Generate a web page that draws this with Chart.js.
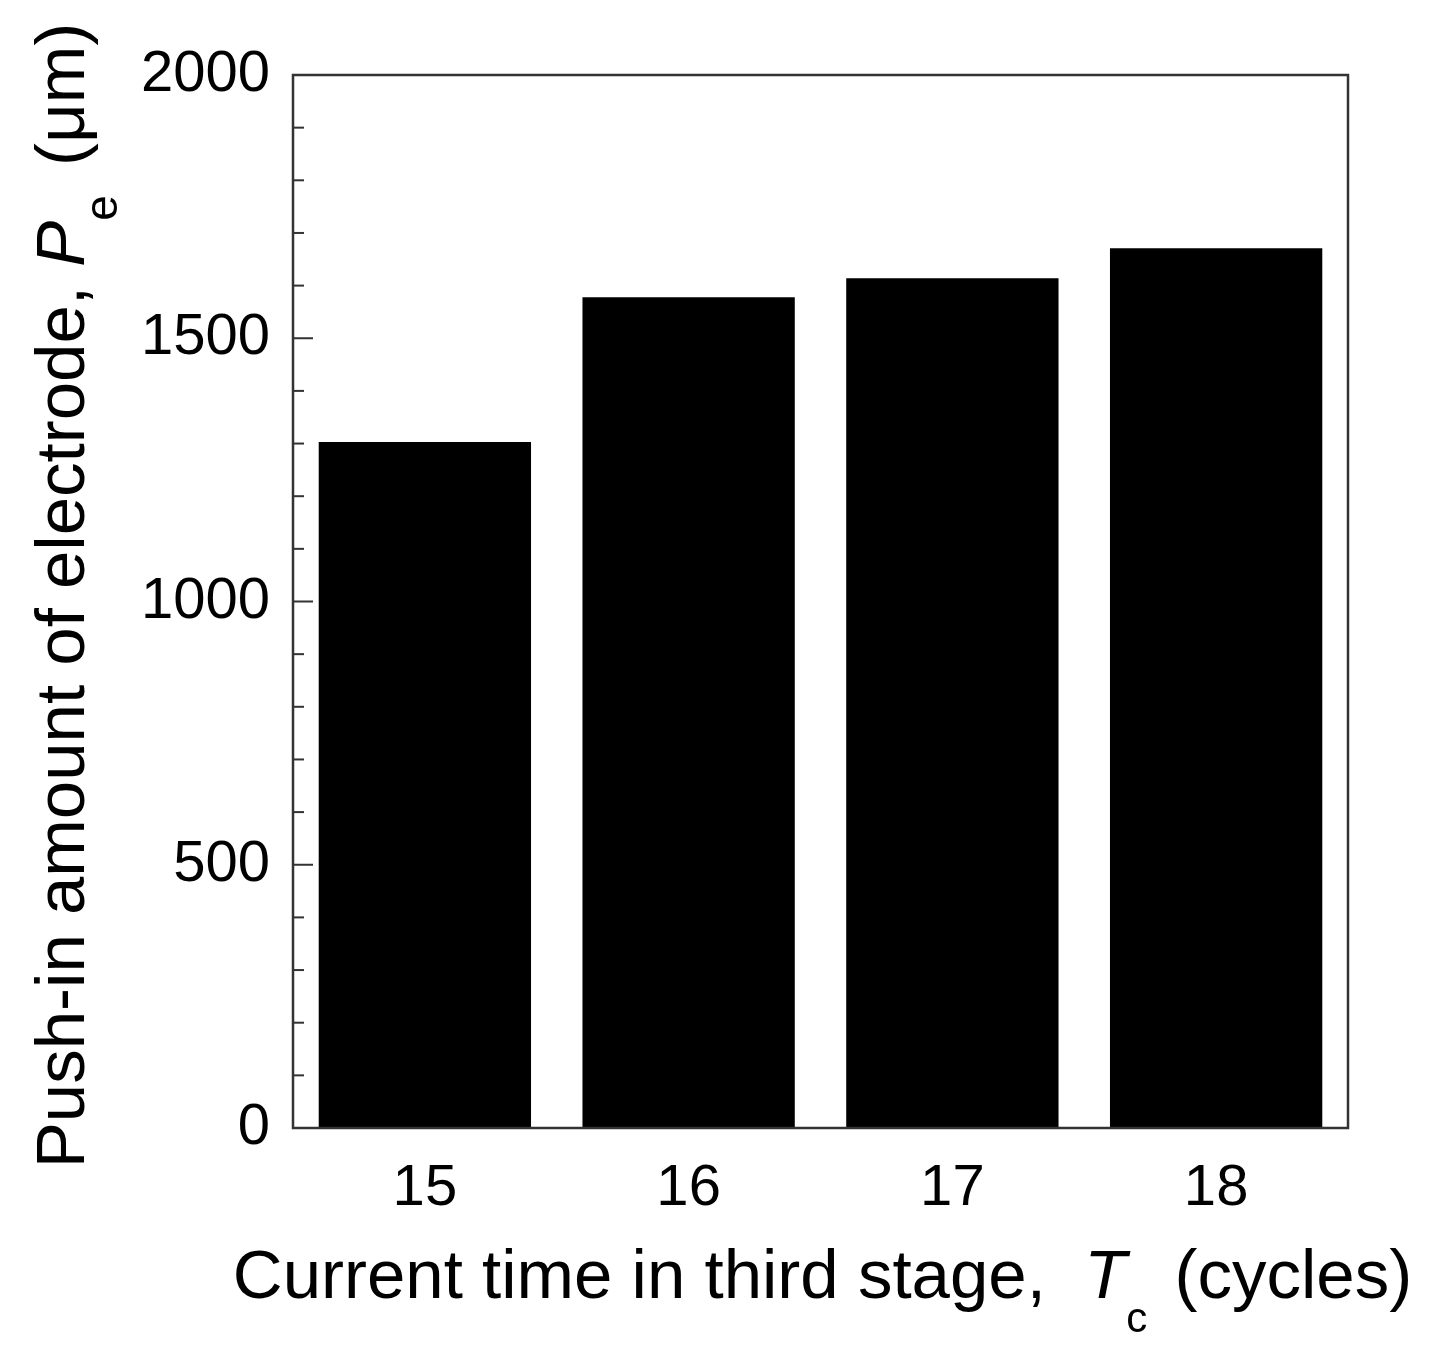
<!DOCTYPE html>
<html>
<head>
<meta charset="utf-8">
<script src="https://cdn.jsdelivr.net/npm/chart.js@4"></script>
<style>
  body { margin: 0; background: #fff; }
  #wrap { width: 1429px; height: 1352px; }
</style>
</head>
<body>
<div id="wrap"><canvas id="pushChart" width="1429" height="1352"></canvas></div>
<script>
// values
var cycles = ['15', '16', '17', '18'];
var pushIn = [1303, 1578, 1614, 1671];
var yMin = 0, yMax = 2000, yMajor = 500, yMinor = 100;

var fontFam = '"Liberation Sans", Arial, sans-serif';

// draws a run of text pieces (normal / italic / subscript) centred on x=0
function drawParts(ctx, parts) {
    var total = 0;
    parts.forEach(function(p){
        ctx.font = p.font;
        p.w = ctx.measureText(p.t).width;
        total += p.w + (p.gap || 0);
    });
    var x = -total / 2;
    parts.forEach(function(p){
        ctx.font = p.font;
        ctx.fillText(p.t, x, p.dy || 0);
        x += p.w + (p.gap || 0);
    });
}

var framePlugin = {
    id: 'frame',
    afterDraw: function(chart){
        var ctx = chart.ctx;
        var a = chart.chartArea;
        var y = chart.scales.y;
        ctx.save();
        ctx.strokeStyle = '#333';
        ctx.lineWidth = 2.5;
        ctx.strokeRect(a.left, a.top, a.right - a.left, a.bottom - a.top);

        // inward ticks on the left axis
        ctx.lineWidth = 2;
        for (var v = yMin; v <= yMax; v += yMinor) {
            var py = y.getPixelForValue(v);
            var len = (v % yMajor === 0) ? 20 : 11;
            ctx.beginPath();
            ctx.moveTo(a.left, py);
            ctx.lineTo(a.left + len, py);
            ctx.stroke();
        }

        ctx.fillStyle = '#000';
        ctx.textBaseline = 'alphabetic';
        ctx.textAlign = 'left';

        // x title
        ctx.save();
        ctx.translate((a.left + a.right) / 2 + 2, 1298);
        drawParts(ctx, [
            {t: 'Current time in third stage,  ', font: '69px ' + fontFam},
            {t: 'T', font: 'italic 69px ' + fontFam},
            {t: 'c', font: '42px ' + fontFam, dy: 34, gap: 8},
            {t: ' (cycles)', font: '69px ' + fontFam}
        ]);
        ctx.restore();

        // y title
        ctx.save();
        ctx.translate(84, (a.top + a.bottom) / 2 - 6);
        ctx.rotate(-Math.PI / 2);
        drawParts(ctx, [
            {t: 'Push-in amount of electrode, ', font: '69px ' + fontFam},
            {t: 'P', font: 'italic 69px ' + fontFam},
            {t: 'e', font: '46px ' + fontFam, dy: 33, gap: 10},
            {t: ' (\u03bcm)', font: '69px ' + fontFam}
        ]);
        ctx.restore();

        ctx.restore();
    }
};

var ctx = document.getElementById('pushChart');

var pushChart = new Chart(ctx, {
    type: 'bar',
    data: {
        labels: cycles,
        datasets: [
            {
                label: 'Push-in amount',
                data: pushIn,
                backgroundColor: '#000',
                borderWidth: 0,
                barPercentage: 0.805,
                categoryPercentage: 1.0
            }
        ]
    },
    options: {
        responsive: false,
        animation: false,
        devicePixelRatio: 1,
        layout: { padding: { left: 0, top: 75, right: 81, bottom: 0 } },
        plugins: {
            legend: { display: false },
            tooltip: { enabled: false }
        },
        scales: {
            x: {
                grid: { display: false, drawTicks: false },
                border: { display: false },
                ticks: {
                    color: '#000',
                    padding: 26,
                    font: { size: 58, family: fontFam }
                },
                afterFit: function(scale){ scale.height = 224; }
            },
            y: {
                min: yMin,
                max: yMax,
                grid: { display: false, drawTicks: false },
                border: { display: false },
                ticks: {
                    stepSize: yMajor,
                    color: '#000',
                    padding: 23,
                    font: { size: 58, family: fontFam },
                    callback: function(value){ return String(value); }
                },
                afterFit: function(scale){ scale.width = 293; }
            }
        }
    },
    plugins: [framePlugin]
});
</script>
</body>
</html>
